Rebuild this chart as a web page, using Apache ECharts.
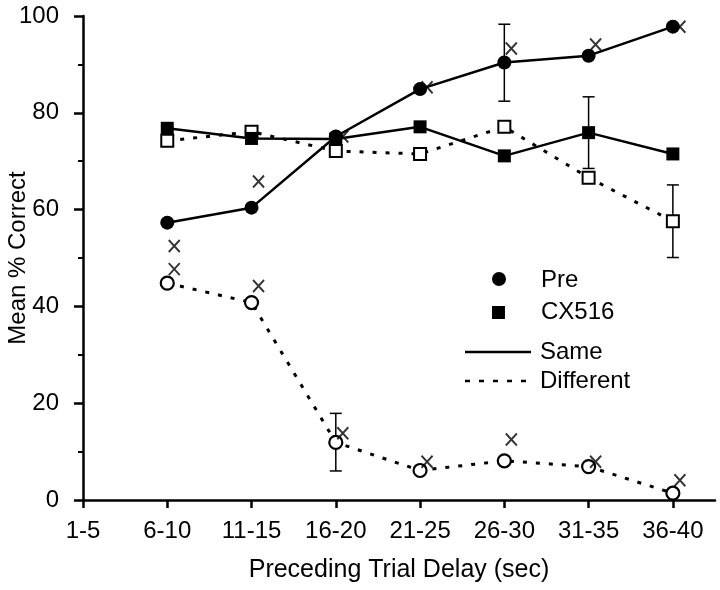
<!DOCTYPE html>
<html>
<head>
<meta charset="utf-8">
<script src="https://cdn.jsdelivr.net/npm/echarts@6/dist/echarts.min.js"></script>
<style>
html,body{margin:0;padding:0;background:#fff;}
#chart{width:720px;height:590px;}
</style>
</head>
<body>
<div id="chart"></div>
<script>
// Category tick labels (positions 0..7 on the x axis)
const xLabels = ['1-5', '6-10', '11-15', '16-20', '21-25', '26-30', '31-35', '36-40'];
// Data categories used by the series (indices 1..7)
const dataCats = ['6-10', '11-15', '16-20', '21-25', '26-30', '31-35', '36-40'];

const preSame = [57.3, 60.4, 75.1, 84.9, 90.4, 91.8, 97.8];
const preDiff = [44.8, 40.8, 11.9, 6.1, 8.1, 6.9, 1.4];
const cxSame  = [76.8, 74.7, 74.6, 77.1, 71.1, 75.9, 71.5];
const cxDiff  = [74.2, 76.1, 72.1, 71.5, 77.1, 66.6, 57.6];

// "x" marks (upper and lower set)
const xUpper = [52.5, 65.8, 75.1, 85.3, 93.3, 94.1, 97.8];
const xLower = [47.7, 44.2, 13.8, 7.9, 12.5, 7.9, 4.1];

// Error bars: [category, low, high]
const errCats = ['26-30', '31-35', '36-40', '16-20'];
const errLow  = [82.4, 68.5, 50.1, 6.0];
const errHigh = [98.3, 83.3, 65.1, 17.9];

const yTicks = [0, 20, 40, 60, 80, 100];

const pos = c => xLabels.indexOf(c);
const toPts = arr => arr.map((v, i) => [pos(dataCats[i]), v]);
const errData = errCats.map((c, i) => [pos(c), errLow[i], errHigh[i]]);

const chart = echarts.init(document.getElementById('chart'), null, {renderer: 'canvas'});
const FONT = 'Liberation Sans, Arial, sans-serif';

const option = {
  backgroundColor: '#fff',
  animation: false,
  grid: {left: 83, right: 5, top: 16, bottom: 90, containLabel: false, outerBoundsMode: 'none'},
  xAxis: {
    type: 'value', min: 0, max: 7.5,
    name: 'Preceding Trial Delay (sec)',
    nameLocation: 'middle', nameGap: 58, nameMoveOverlap: false,
    nameTextStyle: {fontFamily: FONT, fontSize: 25, color: '#000'},
    axisLine: {show: true, lineStyle: {color: '#000', width: 2.5}},
    axisTick: {show: true, length: 8, lineStyle: {color: '#000', width: 2.5},
      customValues: xLabels.map((_, i) => i)},
    axisLabel: {fontFamily: FONT, fontSize: 24, color: '#000', margin: 19,
      customValues: xLabels.map((_, i) => i),
      formatter: v => xLabels[Math.round(v)] || ''},
    splitLine: {show: false}
  },
  yAxis: {
    type: 'value', min: 0, max: 100, interval: 20,
    name: 'Mean % Correct',
    nameLocation: 'middle', nameGap: 53, nameMoveOverlap: false,
    nameTextStyle: {fontFamily: FONT, fontSize: 24, color: '#000'},
    axisLine: {show: true, lineStyle: {color: '#000', width: 2.5}},
    axisTick: {show: true, length: 9, lineStyle: {color: '#000', width: 2.5}},
    minorTick: {show: true, splitNumber: 2, length: 5, lineStyle: {color: '#000', width: 2}},
    axisLabel: {fontFamily: FONT, fontSize: 24, color: '#000', margin: 24,
      formatter: v => (yTicks.indexOf(v) >= 0 ? String(v) : '')},
    splitLine: {show: false}
  },
  series: [
    {
      type: 'custom', name: 'errors', z: 1,
      renderItem: (params, api) => {
        const x = api.value(0);
        const lo = api.coord([x, api.value(1)]);
        const hi = api.coord([x, api.value(2)]);
        const w = 6;
        const st = {stroke: '#000', lineWidth: 1.5};
        return {type: 'group', children: [
          {type: 'line', shape: {x1: lo[0], y1: lo[1], x2: hi[0], y2: hi[1]}, style: st},
          {type: 'line', shape: {x1: hi[0] - w, y1: hi[1], x2: hi[0] + w, y2: hi[1]}, style: st},
          {type: 'line', shape: {x1: lo[0] - w, y1: lo[1], x2: lo[0] + w, y2: lo[1]}, style: st}
        ]};
      },
      data: errData
    },
    {
      type: 'line', name: 'CX516 Different', z: 2,
      data: toPts(cxDiff),
      symbol: 'rect', symbolSize: 12,
      lineStyle: {color: '#000', width: 3, type: [4, 9]},
      itemStyle: {color: '#fff', borderColor: '#000', borderWidth: 2}
    },
    {
      type: 'line', name: 'Pre Different', z: 2,
      data: toPts(preDiff),
      symbol: 'circle', symbolSize: 13,
      lineStyle: {color: '#000', width: 3, type: [4, 9]},
      itemStyle: {color: '#fff', borderColor: '#000', borderWidth: 2.2}
    },
    {
      type: 'line', name: 'CX516 Same', z: 3,
      data: toPts(cxSame),
      symbol: 'rect', symbolSize: 13,
      lineStyle: {color: '#000', width: 2.5},
      itemStyle: {color: '#000', borderColor: '#000', borderWidth: 0}
    },
    {
      type: 'line', name: 'Pre Same', z: 3,
      data: toPts(preSame),
      symbol: 'circle', symbolSize: 14,
      lineStyle: {color: '#000', width: 2.5},
      itemStyle: {color: '#000', borderColor: '#000', borderWidth: 0}
    },
    {
      type: 'scatter', name: 'x upper', z: 4,
      data: toPts(xUpper),
      symbol: 'path://M0,0L10,11M10,0L0,11', symbolSize: [11, 12], symbolOffset: [7, 0],
      itemStyle: {color: 'rgba(0,0,0,0)', borderColor: '#000', borderWidth: 2}
    },
    {
      type: 'scatter', name: 'x lower', z: 4,
      data: toPts(xLower),
      symbol: 'path://M0,0L10,11M10,0L0,11', symbolSize: [11, 12], symbolOffset: [7, 0],
      itemStyle: {color: 'rgba(0,0,0,0)', borderColor: '#000', borderWidth: 2}
    }
  ],
  graphic: [
    {type: 'circle', shape: {cx: 499, cy: 279, r: 7}, style: {fill: '#000'}},
    {type: 'text', x: 541, y: 280, style: {text: 'Pre', font: '24px ' + FONT, fill: '#000', verticalAlign: 'middle'}},
    {type: 'rect', shape: {x: 492, y: 306, width: 13, height: 13}, style: {fill: '#000'}},
    {type: 'text', x: 541, y: 312, style: {text: 'CX516', font: '24px ' + FONT, fill: '#000', verticalAlign: 'middle'}},
    {type: 'line', shape: {x1: 465, y1: 352, x2: 531, y2: 352}, style: {stroke: '#000', lineWidth: 2.5}},
    {type: 'text', x: 540, y: 352, style: {text: 'Same', font: '24px ' + FONT, fill: '#000', verticalAlign: 'middle'}},
    {type: 'line', shape: {x1: 465, y1: 381, x2: 531, y2: 381}, style: {stroke: '#000', lineWidth: 2.5, lineDash: [5, 9]}},
    {type: 'text', x: 540, y: 381, style: {text: 'Different', font: '24px ' + FONT, fill: '#000', verticalAlign: 'middle'}}
  ]
};
chart.setOption(option);
</script>
</body>
</html>
